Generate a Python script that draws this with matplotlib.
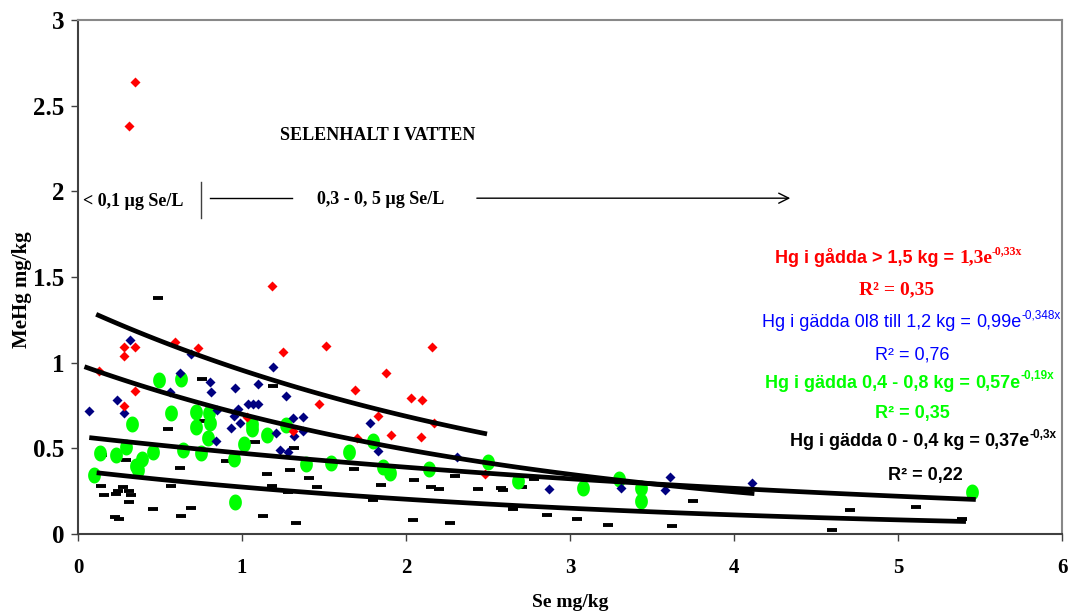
import numpy as np
import matplotlib
matplotlib.use("Agg")
import matplotlib.pyplot as plt
from matplotlib.path import Path

# Hg i gädda > 1,5 kg (red diamonds)
red_x = [0.35, 0.31, 1.18, 0.59, 0.73, 0.28, 0.345, 0.28, 1.25, 1.51, 0.13, 0.35,
         0.28, 1.47, 1.03, 1.31, 2.16, 1.88, 1.69, 2.03, 2.10, 1.83, 2.17, 1.91,
         1.70, 2.09, 2.48]
red_y = [2.64, 2.38, 1.45, 1.12, 1.085, 1.09, 1.09, 1.04, 1.06, 1.10, 0.95, 0.835,
         0.745, 0.76, 0.68, 0.60, 1.09, 0.94, 0.84, 0.795, 0.78, 0.69, 0.65, 0.575,
         0.56, 0.567, 0.35]

# Hg i gädda 0,8 - 1,2 kg (navy diamonds)
blue_x = [0.065, 0.32, 0.24, 0.28, 0.62, 0.69, 0.56, 0.805, 0.81, 0.85, 0.96, 0.976,
          0.95, 0.935, 0.99, 1.035, 1.065, 1.10, 1.10, 1.19, 1.27, 1.31, 1.37, 1.37,
          1.32, 1.21, 0.84, 1.23, 1.28, 1.78, 1.83, 2.31, 2.87, 3.31, 3.61, 3.58, 4.11]
blue_y = [0.716, 1.13, 0.78, 0.706, 0.94, 1.05, 0.83, 0.885, 0.826, 0.725, 0.85, 0.73,
          0.69, 0.62, 0.65, 0.76, 0.76, 0.76, 0.876, 0.975, 0.807, 0.677, 0.683, 0.60,
          0.57, 0.59, 0.545, 0.49, 0.48, 0.65, 0.487, 0.45, 0.265, 0.27, 0.33, 0.257, 0.296]

# Hg i gädda 0,4 - 0,8 kg (green)
green_x = [0.495, 0.625, 0.33, 0.57, 0.72, 0.80, 0.72, 0.805, 0.79, 1.06, 1.06, 1.15,
           1.27, 1.01, 0.29, 0.136, 0.23, 0.456, 0.39, 0.353, 0.365, 0.64, 0.75, 0.95,
           0.095, 0.957, 1.39, 1.54, 1.65, 1.80, 1.86, 1.90, 2.14, 2.50, 2.68, 3.08,
           3.30, 3.43, 3.43, 5.45]
green_y = [0.90, 0.907, 0.64, 0.708, 0.714, 0.706, 0.625, 0.65, 0.56, 0.61, 0.64, 0.58,
           0.634, 0.526, 0.51, 0.47, 0.46, 0.48, 0.435, 0.396, 0.373, 0.493, 0.47, 0.435,
           0.342, 0.187, 0.408, 0.412, 0.48, 0.54, 0.393, 0.358, 0.377, 0.42, 0.31, 0.267,
           0.32, 0.267, 0.19, 0.248]

# Hg i gädda 0 - 0,4 kg (black dashes)
black_x = [0.49, 0.757, 1.19, 0.77, 0.55, 0.795, 1.08, 1.32, 0.146, 0.29, 0.90, 0.62,
           1.15, 1.29, 1.41, 0.138, 0.276, 0.16, 0.57, 0.243, 0.31, 0.233, 0.325, 0.31,
           1.185, 1.28, 1.46, 0.46, 0.69, 0.227, 0.25, 0.63, 1.13, 1.33, 1.68, 1.85,
           2.05, 2.15, 2.20, 2.30, 2.44, 2.58, 2.59, 2.71, 2.78, 1.80, 2.04, 2.27, 2.65,
           2.86, 3.04, 3.23, 3.62, 3.75, 4.60, 4.71, 5.11, 5.39]
black_y = [1.38, 0.907, 0.866, 0.66, 0.61, 0.547, 0.536, 0.503, 0.462, 0.433, 0.427, 0.387,
           0.352, 0.375, 0.327, 0.28, 0.275, 0.225, 0.279, 0.253, 0.252, 0.232, 0.225, 0.188,
           0.28, 0.248, 0.273, 0.147, 0.149, 0.097, 0.089, 0.103, 0.104, 0.062, 0.38, 0.288,
           0.317, 0.273, 0.26, 0.34, 0.265, 0.269, 0.257, 0.277, 0.323, 0.20, 0.081, 0.062, 0.143,
           0.112, 0.085, 0.052, 0.048, 0.19, 0.025, 0.14, 0.157, 0.086]

# trend lines y = a*exp(-b*x), x range as drawn
trend_a = [1.33, 0.99, 0.57, 0.37]
trend_b = [0.33, 0.348, 0.19, 0.3]
trend_x0 = [0.124, 0.053, 0.083, 0.128]
trend_x1 = [2.48, 4.11, 5.46, 5.40]

serif = "Liberation Serif"
sans = "Liberation Sans"

fig = plt.figure(figsize=(10.69, 6.15), dpi=100)
ax = fig.add_axes([78 / 1069, 81 / 615, 984 / 1069, 514 / 615])

# green markers are slightly taller than wide
t = np.linspace(0, 2 * np.pi, 40)
ellipse = Path(np.column_stack([0.8 * np.cos(t), np.sin(t)]), closed=True)

ax.plot(black_x, black_y, ls="none", marker="_", ms=6.5, mew=2.8, color="black", zorder=3)
ax.plot(green_x, green_y, ls="none", marker=ellipse, ms=11.5, mec="none", color="#00FF00", zorder=3)
ax.plot(blue_x, blue_y, ls="none", marker="D", ms=5.4, mec="none", color="#000080", zorder=3)
ax.plot(red_x, red_y, ls="none", marker="D", ms=5.4, mec="none", color="#FF0000", zorder=3)

for a, b, x0, x1 in zip(trend_a, trend_b, trend_x0, trend_x1):
    xx = np.linspace(x0, x1, 100)
    ax.plot(xx, a * np.exp(-b * xx), color="black", lw=3.4, zorder=4)

ax.set_xlim(0, 6)
ax.set_ylim(0, 3)
ax.set_xticks(range(7))
ax.set_xticklabels([str(i) for i in range(7)], fontsize=15, fontweight="bold", family=serif)
ax.set_yticks([0, 0.5, 1, 1.5, 2, 2.5, 3])
ax.set_yticklabels(["0", "0.5", "1", "1.5", "2", "2.5", "3"], fontsize=18,
                   fontweight="bold", family=serif)
ax.tick_params(axis="x", direction="out", length=5, width=1, color="#404040", pad=12)
ax.tick_params(axis="y", direction="out", length=5, width=1, color="#404040", pad=5)
for s in ["left", "bottom"]:
    ax.spines[s].set_color("#404040")
    ax.spines[s].set_linewidth(1.5)
for s in ["top", "right"]:
    ax.spines[s].set_color("#888888")
    ax.spines[s].set_linewidth(1.5)

ax.set_xlabel("Se mg/kg", fontsize=14, fontweight="bold", family=serif)
ax.xaxis.set_label_coords(0.5, -0.134)
ax.xaxis.label.set_va("center")
ax.set_ylabel("MeHg mg/kg", fontsize=15, fontweight="bold", family=serif)
ax.yaxis.set_label_coords(-0.057, 0.475)
ax.yaxis.label.set_va("center")

# selenium in water annotations
ax.text(1.83, 2.326, "SELENHALT I VATTEN", fontsize=13, fontweight="bold", family=serif,
        ha="center", va="center")
ax.text(0.03, 1.94, "< 0,1 µg Se/L", fontsize=13, fontweight="bold", family=serif,
        ha="left", va="center")
ax.plot([0.75, 0.75], [1.844, 2.054], color="#404040", lw=1)
ax.plot([0.805, 1.305], [1.96, 1.96], color="black", lw=1)
ax.annotate("", xy=(4.36, 1.96), xytext=(2.415, 1.96),
            arrowprops=dict(arrowstyle="->", color="black", lw=1, mutation_scale=18))
ax.text(1.845, 1.95, "0,3 - 0, 5 µg Se/L", fontsize=13, fontweight="bold", family=serif,
        ha="center", va="center")


def equation(x, y, main, coef, sup, color, bold, coef_font):
    w = "bold" if bold else "normal"
    t1 = ax.text(x, y, main, color=color, fontsize=13, fontweight=w, family=sans,
                 ha="left", va="center", zorder=6)
    t2 = ax.annotate(coef, xy=(1, 0.5), xycoords=t1, color=color, fontsize=13 if coef_font == sans else 14,
                     fontweight=w, family=coef_font, ha="left", va="center", zorder=6)
    ax.annotate(sup, xy=(1, 0.9), xycoords=t2, color=color, fontsize=8.5, fontweight=w,
                family=coef_font, ha="left", va="center", zorder=6)


equation(4.25, 1.611, "Hg i gådda > 1,5 kg = ", "1,3e", "-0,33x", "#FF0000", True, serif)
ax.text(4.99, 1.424, "R² = 0,35", color="#FF0000", fontsize=14, fontweight="bold",
        family=serif, ha="center", va="center")
equation(4.17, 1.237, "Hg i gädda 0l8 till 1,2 kg = ", "0,99e", "-0,348x", "#0000FF", False, sans)
ax.text(5.085, 1.045, "R² = 0,76", color="#0000FF", fontsize=13, family=sans,
        ha="center", va="center")
equation(4.19, 0.881, "Hg i gädda 0,4 - 0,8 kg = ", "0,57e", "-0,19x", "#00FF00", True, sans)
ax.text(5.085, 0.706, "R² = 0,35", color="#00FF00", fontsize=13, fontweight="bold",
        family=sans, ha="center", va="center")
equation(4.34, 0.537, "Hg i gädda 0 - 0,4 kg = ", "0,37e", "-0,3x", "black", True, sans)
ax.text(5.165, 0.344, "R² = 0,22", color="black", fontsize=13, fontweight="bold",
        family=sans, ha="center", va="center")

fig.savefig("out.png", dpi=100)
